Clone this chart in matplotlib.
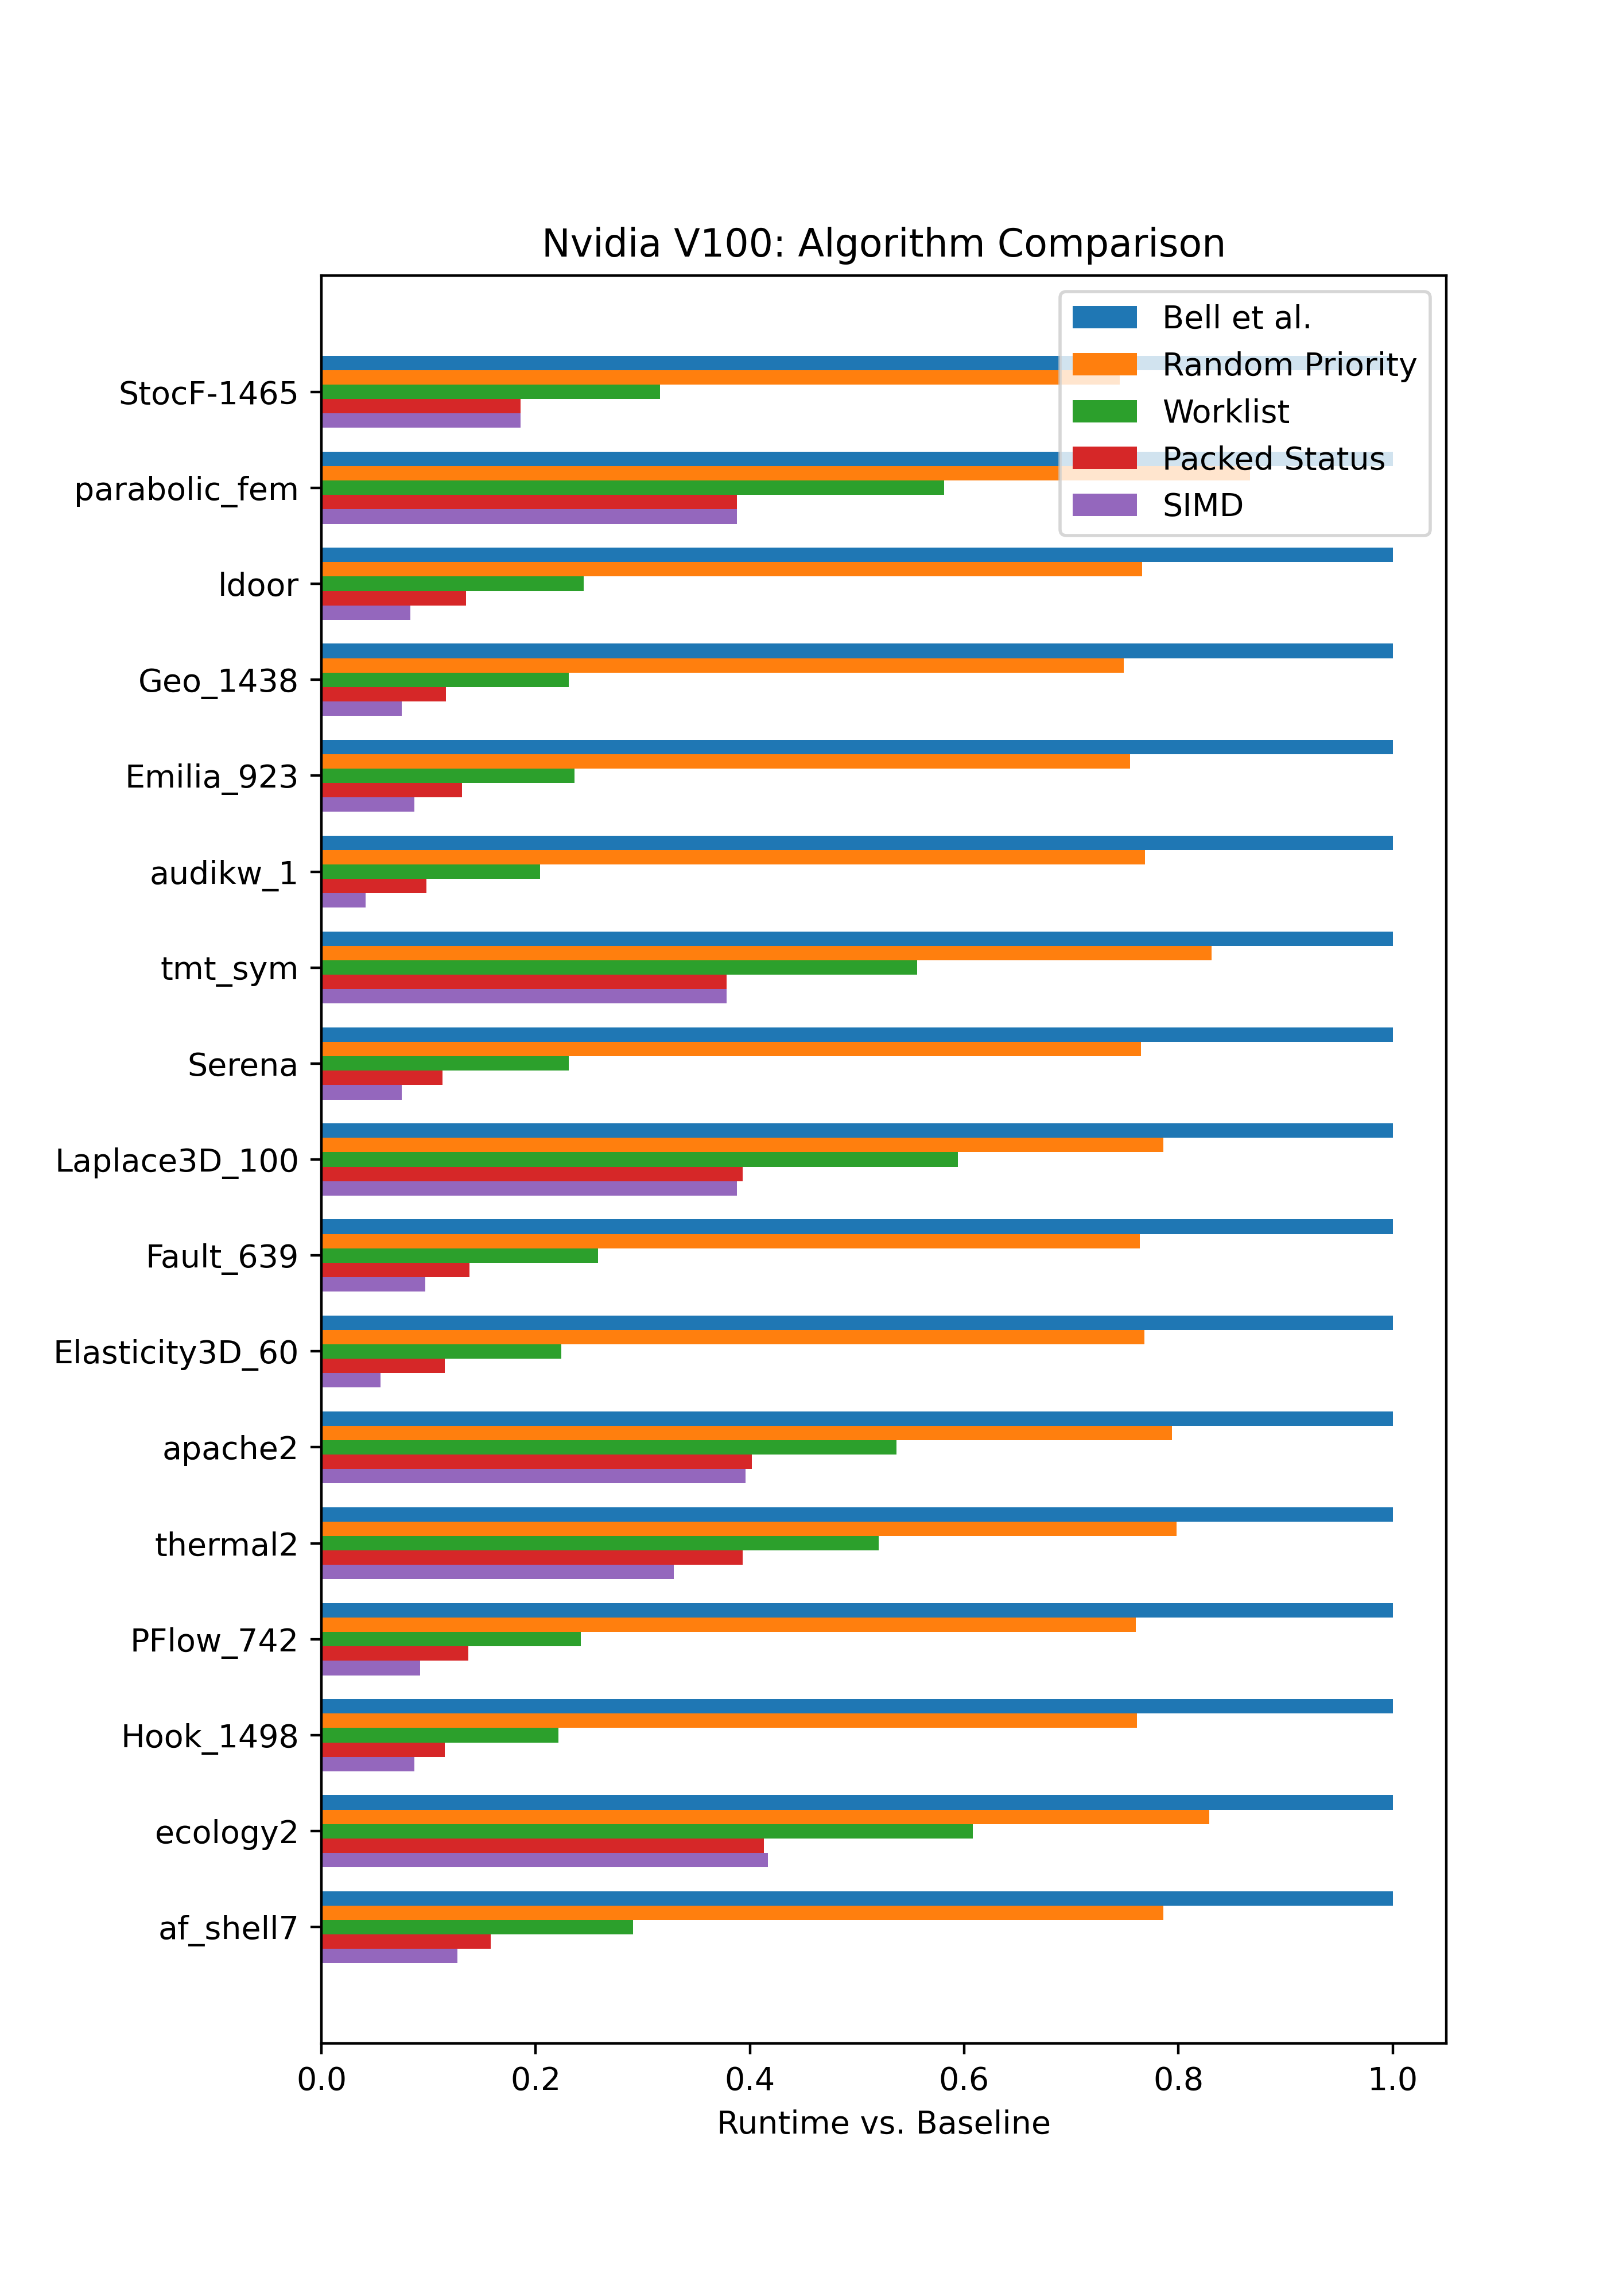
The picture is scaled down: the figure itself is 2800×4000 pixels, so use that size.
import numpy as np
import matplotlib
matplotlib.use("Agg")
import matplotlib.pyplot as plt

# matrices, top to bottom as shown
matrices = ["StocF-1465", "parabolic_fem", "ldoor", "Geo_1438", "Emilia_923",
            "audikw_1", "tmt_sym", "Serena", "Laplace3D_100", "Fault_639",
            "Elasticity3D_60", "apache2", "thermal2", "PFlow_742", "Hook_1498",
            "ecology2", "af_shell7"]

series_names = ["Bell et al.", "Random Priority", "Worklist", "Packed Status", "SIMD"]

bell = [1.0] * 17
random_priority = [0.745, 0.867, 0.766, 0.749, 0.755, 0.769, 0.831, 0.765, 0.786,
                   0.764, 0.768, 0.794, 0.798, 0.760, 0.761, 0.829, 0.786]
worklist = [0.316, 0.581, 0.245, 0.231, 0.236, 0.204, 0.556, 0.231, 0.594,
            0.258, 0.224, 0.537, 0.520, 0.242, 0.221, 0.608, 0.291]
packed_status = [0.186, 0.388, 0.135, 0.116, 0.131, 0.098, 0.378, 0.113, 0.393,
                 0.138, 0.115, 0.402, 0.393, 0.137, 0.115, 0.413, 0.158]
simd = [0.186, 0.388, 0.083, 0.075, 0.087, 0.041, 0.378, 0.075, 0.388,
        0.097, 0.055, 0.396, 0.329, 0.092, 0.087, 0.417, 0.127]

all_series = [bell, random_priority, worklist, packed_status, simd]

fig, ax = plt.subplots(figsize=(7, 10), dpi=400)
fig.subplots_adjust(left=0.2)

y = np.arange(len(matrices))
width = 0.15
for k, (name, vals) in enumerate(zip(series_names, all_series)):
    ax.barh(y + (k - 2) * width, vals, height=width, label=name)

ax.set_yticks(y)
ax.set_yticklabels(matrices)
ax.invert_yaxis()
ax.set_xlabel("Runtime vs. Baseline")
ax.set_title("Nvidia V100: Algorithm Comparison")
ax.legend(loc="upper right")

fig.savefig("out.png", dpi=400)
